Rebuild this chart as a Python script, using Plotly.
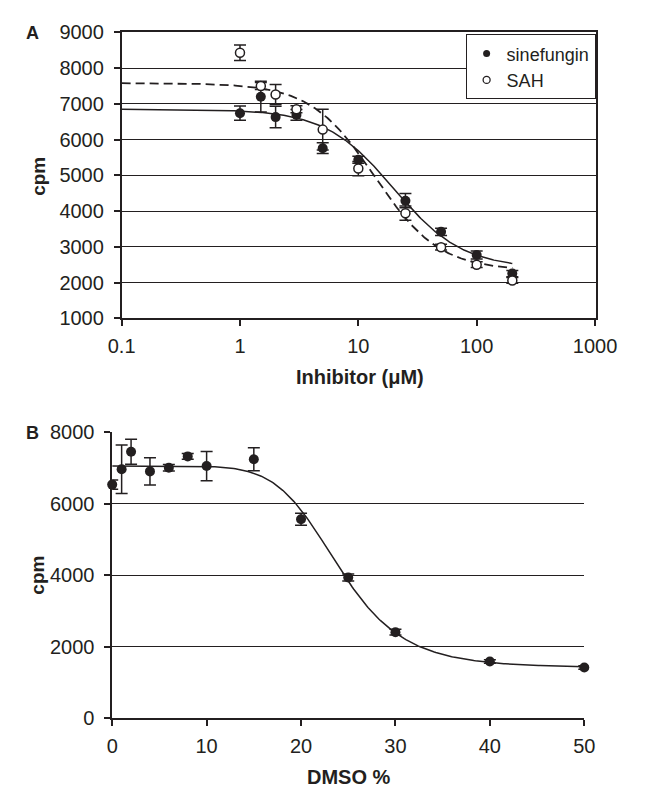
import numpy as np
import plotly.graph_objects as go

# ---------------- Panel A data ----------------
conc_sine = [1, 1.5, 2, 3, 5, 10, 25, 50, 100, 200]
cpm_sine = [6740, 7200, 6630, 6690, 5760, 5435, 4290, 3420, 2770, 2250]
err_sine = [200, 430, 300, 150, 150, 100, 200, 100, 110, 90]

conc_sah = [1, 1.5, 2, 3, 5, 10, 25, 50, 100, 200]
cpm_sah = [8430, 7500, 7260, 6850, 6280, 5190, 3940, 2990, 2500, 2060]
err_sah = [220, 100, 280, 100, 570, 200, 200, 80, 80, 80]

# fitted 4-parameter logistic parameters (top, bottom, IC50, hill)
fit_sine = (6850, 2400, 20.0, 1.5)
fit_sah = (7580, 2340, 13.8, 1.6)

xA_ticks = [0.1, 1, 10, 100, 1000]
xA_ticktext = ["0.1", "1", "10", "100", "1000"]
yA_ticks = [1000, 2000, 3000, 4000, 5000, 6000, 7000, 8000, 9000]

# ---------------- Panel B data ----------------
dmso = [0, 1, 2, 4, 6, 8, 10, 15, 20, 25, 30, 40, 50]
cpm_dmso = [6530, 6960, 7450, 6900, 7000, 7320, 7050, 7240, 5560, 3930, 2400, 1580, 1415]
err_dmso = [130, 680, 350, 380, 90, 80, 410, 320, 170, 100, 80, 50, 50]
fit_dmso = (7050, 1400, 24.0, 7.0)

xB_ticks = [0, 10, 20, 30, 40, 50]
yB_ticks = [0, 2000, 4000, 6000, 8000]


def logistic(x, p):
    top, bottom, x50, h = p
    return bottom + (top - bottom) / (1 + (x / x50) ** h)


W, H = 645, 799
ink = "#231f20"
font = "Liberation Sans, Arial, sans-serif"
err_style = dict(type="data", color=ink, thickness=1.5, width=6)

fig = go.Figure()

xa_curve = np.logspace(-1, np.log10(200), 300)
fig.add_trace(go.Scatter(x=xa_curve, y=logistic(xa_curve, fit_sine), mode="lines",
                         line=dict(color=ink, width=1.5), showlegend=False,
                         xaxis="x", yaxis="y"))
fig.add_trace(go.Scatter(x=xa_curve, y=logistic(xa_curve, fit_sah), mode="lines",
                         line=dict(color=ink, width=1.8, dash="9px,5px"), showlegend=False,
                         xaxis="x", yaxis="y"))
fig.add_trace(go.Scatter(x=conc_sine, y=cpm_sine, mode="markers", showlegend=False,
                         marker=dict(color=ink, size=10, symbol="circle"),
                         error_y=dict(array=err_sine, **err_style),
                         xaxis="x", yaxis="y"))
fig.add_trace(go.Scatter(x=conc_sah, y=cpm_sah, mode="markers", showlegend=False,
                         marker=dict(color="white", size=9, symbol="circle",
                                     line=dict(color=ink, width=1.5)),
                         error_y=dict(array=err_sah, **err_style),
                         xaxis="x", yaxis="y"))
# legend entries (small symbols as in the reference)
fig.add_trace(go.Scatter(x=[None], y=[None], mode="markers", name="sinefungin",
                         marker=dict(color=ink, size=7), xaxis="x", yaxis="y"))
fig.add_trace(go.Scatter(x=[None], y=[None], mode="markers", name="SAH",
                         marker=dict(color="white", size=7, line=dict(color=ink, width=1.3)),
                         xaxis="x", yaxis="y"))

xb_curve = np.linspace(0, 50, 300)
fig.add_trace(go.Scatter(x=xb_curve, y=logistic(xb_curve, fit_dmso), mode="lines",
                         line=dict(color=ink, width=1.5), showlegend=False,
                         xaxis="x2", yaxis="y2"))
fig.add_trace(go.Scatter(x=dmso, y=cpm_dmso, mode="markers", showlegend=False,
                         marker=dict(color=ink, size=10, symbol="circle"),
                         error_y=dict(array=err_dmso, **err_style),
                         cliponaxis=False,
                         xaxis="x2", yaxis="y2"))

axis_common = dict(showline=True, linecolor=ink, linewidth=1.5, ticks="outside",
                   tickcolor=ink, ticklen=6, tickwidth=1.5,
                   tickfont=dict(family=font, size=20, color=ink), zeroline=False)

fig.update_layout(
    width=W, height=H, margin=dict(l=0, r=0, t=0, b=0),
    paper_bgcolor="white", plot_bgcolor="white",
    font=dict(family=font, color=ink),
    xaxis=dict(domain=[114 / W, 616 / W], type="log", range=[-1, 3.005],
               tickvals=xA_ticks, ticktext=xA_ticktext, showgrid=False,
               mirror=True, anchor="y", ticklabelstandoff=3, **axis_common),
    yaxis=dict(domain=[1 - 316 / H, 1 - 22 / H], range=[1000, 9000], tickvals=yA_ticks,
               showgrid=True, gridcolor=ink, gridwidth=1.3, mirror=True, anchor="x",
               ticklabelstandoff=6, **axis_common),
    xaxis2=dict(domain=[104 / W, 604 / W], range=[0, 50], tickvals=xB_ticks, showgrid=False,
                anchor="y2", ticklabelstandoff=3, **axis_common),
    yaxis2=dict(domain=[1 - 727 / H, 1 - 433 / H], range=[0, 8000], tickvals=yB_ticks,
                showgrid=True, gridcolor=ink, gridwidth=1.3, anchor="x2",
                ticklabelstandoff=6, **axis_common),
    legend=dict(x=616 / W, xanchor="right", y=1 - 24 / H, yanchor="top",
                bgcolor="white", bordercolor=ink, borderwidth=1,
                font=dict(family=font, size=18, color=ink),
                itemwidth=30, tracegroupgap=0),
    showlegend=True,
)

ann = [
    dict(text="<b>A</b>", x=20 / W, y=1 - 23 / H, size=18),
    dict(text="<b>B</b>", x=20 / W, y=1 - 434 / H, size=18),
    dict(text="<b>cpm</b>", x=26 / W, y=1 - 170 / H, size=19, angle=-90),
    dict(text="<b>cpm</b>", x=24 / W, y=1 - 580 / H, size=19, angle=-90),
    dict(text="<b>Inhibitor (μM)</b>", x=366 / W, y=1 - 376 / H, size=20),
    dict(text="<b>DMSO %</b>", x=355 / W, y=1 - 788 / H, size=20),
]
for a in ann:
    fig.add_annotation(text=a["text"], x=a["x"], y=a["y"], xref="paper", yref="paper",
                       xanchor="center", yanchor="middle", showarrow=False,
                       textangle=a.get("angle", 0),
                       font=dict(family=font, size=a["size"], color=ink))

fig.write_html("out.html")
